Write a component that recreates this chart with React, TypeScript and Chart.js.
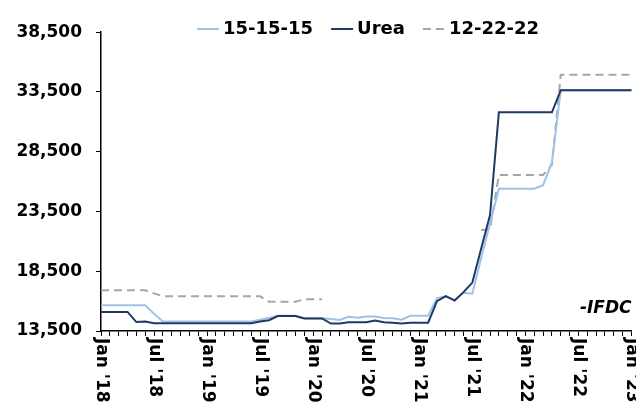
import React, { useEffect, useRef } from 'react';
import { Chart, registerables } from 'chart.js';

Chart.register(...registerables);

// ---- Data ----
const years = ['18', '19', '20', '21', '22', '23'];
const monthNames = ['Jan', 'Feb', 'Mar', 'Apr', 'May', 'Jun', 'Jul', 'Aug', 'Sep', 'Oct', 'Nov', 'Dec'];
const categories: string[] = [];
years.forEach((y, yi) => {
  monthNames.forEach((m, mi) => {
    if (yi < years.length - 1 || mi === 0) categories.push(`${m} '${y}`);
  });
});

const xTickLabels = ["Jan '18", "Jul '18", "Jan '19", "Jul '19", "Jan '20", "Jul '20", "Jan '21", "Jul '21", "Jan '22", "Jul '22", "Jan '23"];
const yTicks = [13500, 18500, 23500, 28500, 33500, 38500];

const npk151515 = [
  15650, 15650, 15650, 15650, 15650, 15650, 14950, 14300, 14300, 14300, 14300, 14300,
  14300, 14300, 14300, 14300, 14300, 14300, 14450, 14600, 14780, 14780, 14780, 14560,
  14560, 14560, 14500, 14430, 14690, 14600, 14720, 14720, 14590, 14560, 14450, 14770,
  14770, 14770, 16250, 16400, 16100, 16700, 16620, 19600, 22500, 25400, 25400, 25400,
  25400, 25400, 25700, 27600, 33650, 33650, 33650, 33650, 33650, 33650, 33650, 33650,
  33650,
];

const urea = [
  15100, 15100, 15100, 15100, 14250, 14300, 14150, 14150, 14150, 14150, 14150, 14150,
  14150, 14150, 14150, 14150, 14150, 14150, 14300, 14400, 14750, 14750, 14750, 14550,
  14550, 14550, 14120, 14120, 14240, 14240, 14240, 14370, 14240, 14190, 14120, 14190,
  14190, 14190, 16000, 16420, 16050, 16750, 17550, 20400, 23200, 31800, 31800, 31800,
  31800, 31800, 31800, 31800, 33650, 33650, 33650, 33650, 33650, 33650, 33650, 33650,
  33650,
];

const npk122222 = [
  16900, 16900, 16900, 16900, 16900, 16900, 16650, 16400, 16400, 16400, 16400, 16400,
  16400, 16400, 16400, 16400, 16400, 16400, 16400, 15950, 15950, 15950, 15950, 16150,
  16150, 16150, null, null, null, null, null, null, null, null, null, null,
  null, null, null, null, null, null, null, 21950, 22000, 26550, 26550, 26550,
  26550, 26550, 26550, 27400, 34950, 34950, 34950, 34950, 34950, 34950, 34950, 34950,
  34950,
];

const seriesNames = ['15-15-15', 'Urea', '12-22-22'];
const seriesColors = ['#9DC3E6', '#1F3864', '#A6A6A6'];
const sourceNote = '-IFDC';

const FONT = '"DejaVu Sans", Verdana, sans-serif';

export default function App() {
  const canvasRef = useRef<HTMLCanvasElement | null>(null);

  useEffect(() => {
    const canvas = canvasRef.current;
    if (!canvas) return;

    const overlay = {
      id: 'overlay',
      afterDraw(chart: any) {
        const ctx = chart.ctx as CanvasRenderingContext2D;
        const xs = chart.scales.x;
        const area = chart.chartArea;
        ctx.save();
        // x-axis labels, rotated clockwise (reading top to bottom)
        ctx.fillStyle = '#000';
        ctx.font = `bold 17px ${FONT}`;
        ctx.textAlign = 'left';
        ctx.textBaseline = 'middle';
        xTickLabels.forEach((lab) => {
          const idx = categories.indexOf(lab);
          const x = xs.getPixelForValue(idx);
          ctx.save();
          ctx.translate(x, area.bottom + 7);
          ctx.rotate(Math.PI / 2);
          ctx.fillText(lab, 0, 0);
          ctx.restore();
        });

        // legend
        ctx.font = `bold 18px ${FONT}`;
        ctx.textBaseline = 'middle';
        let lx = 189;
        const ly = 21;
        seriesNames.forEach((name, i) => {
          ctx.save();
          ctx.strokeStyle = seriesColors[i];
          ctx.lineWidth = 2;
          if (i === 2) ctx.setLineDash([8, 5]);
          ctx.beginPath();
          ctx.moveTo(lx, ly);
          ctx.lineTo(lx + 22, ly);
          ctx.stroke();
          ctx.restore();
          ctx.fillStyle = '#000';
          ctx.fillText(name, lx + 26, ly);
          lx += 26 + ctx.measureText(name).width + 18;
        });

        // source note
        ctx.font = `italic bold 17px ${FONT}`;
        ctx.textAlign = 'right';
        ctx.textBaseline = 'alphabetic';
        ctx.fillText(sourceNote, area.right, 305);
        ctx.restore();
      },
    };

    const chart = new Chart(canvas, {
      type: 'line',
      data: {
        labels: categories,
        datasets: [
          { label: seriesNames[0], data: npk151515, borderColor: seriesColors[0], borderWidth: 2, pointRadius: 0, order: 1 },
          { label: seriesNames[1], data: urea, borderColor: seriesColors[1], borderWidth: 2, pointRadius: 0, order: 0 },
          { label: seriesNames[2], data: npk122222 as any, borderColor: seriesColors[2], borderWidth: 2, borderDash: [8, 5], pointRadius: 0, order: 2, spanGaps: false },
        ],
      },
      options: {
        animation: false,
        responsive: false,
        events: [],
        layout: { padding: { left: 0, top: 9, right: 4.5, bottom: 0 } },
        plugins: { legend: { display: false }, tooltip: { enabled: false } },
        scales: {
          x: {
            type: 'category',
            offset: false,
            grid: { display: true, drawOnChartArea: false, drawTicks: true, tickLength: 5, color: '#000', offset: false },
            border: { display: true, color: '#000', width: 1.5 },
            ticks: { display: false, autoSkip: false },
            afterFit: (s: any) => { s.height = 76; },
          },
          y: {
            type: 'linear',
            min: 13500,
            max: 38500,
            grid: { display: true, drawOnChartArea: false, drawTicks: true, tickLength: 5, color: '#000' },
            border: { display: true, color: '#000', width: 1.5 },
            ticks: {
              color: '#000',
              padding: 14,
              font: { family: FONT, size: 17, weight: 'bold' },
              callback: (v: any) => Number(v).toLocaleString('en-US'),
            },
            afterBuildTicks: (s: any) => { s.ticks = yTicks.map((v) => ({ value: v })); },
            afterFit: (s: any) => { s.width = 93; },
          },
        },
      },
      plugins: [overlay],
    });

    return () => chart.destroy();
  }, []);

  return (
    <div style={{ width: 628, height: 399 }}>
      <canvas ref={canvasRef} width={628} height={399} style={{ display: 'block' }} />
    </div>
  );
}
